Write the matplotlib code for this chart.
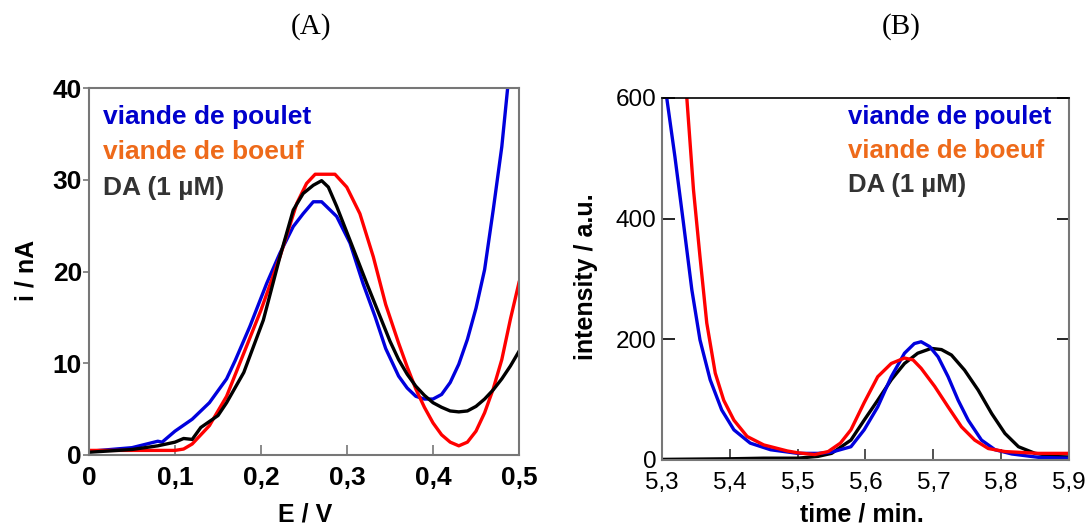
import matplotlib
matplotlib.use("Agg")
import matplotlib.pyplot as plt
from matplotlib.ticker import FuncFormatter

plt.rcParams['font.family'] = ['Liberation Sans', 'DejaVu Sans']

# ---- Panel A: voltammograms (E / V vs i / nA) ----
E_poulet = [0.0, 0.05, 0.08, 0.085, 0.1, 0.12, 0.14, 0.16, 0.17, 0.187, 0.2066, 0.222,
            0.2375, 0.249, 0.2608, 0.2705, 0.276, 0.288, 0.3035, 0.3186, 0.3326, 0.345,
            0.36, 0.37, 0.38, 0.39, 0.4, 0.41, 0.42, 0.43, 0.44, 0.45, 0.46, 0.47,
            0.48, 0.49]
i_poulet = [0.4, 0.8, 1.5, 1.4, 2.6, 3.9, 5.7, 8.3, 10.3, 14.0, 18.7, 22.0,
            24.9, 26.3, 27.6, 27.6, 27.1, 26.0, 23.1, 18.7, 15.1, 11.6,
            8.6, 7.3, 6.4, 6.1, 6.1, 6.6, 7.9, 9.9, 12.6, 16.0, 20.2, 26.7,
            33.6, 43.0]

E_boeuf = [0.0, 0.1, 0.11, 0.12, 0.14, 0.16, 0.18, 0.2, 0.222, 0.2415, 0.253, 0.263,
           0.286, 0.2997, 0.315, 0.3306, 0.345, 0.36, 0.37, 0.38, 0.39, 0.4, 0.41,
           0.42, 0.43, 0.44, 0.45, 0.46, 0.47, 0.48, 0.49, 0.5]
i_boeuf = [0.5, 0.5, 0.65, 1.2, 3.2, 6.4, 11.1, 15.8, 21.6, 27.4, 29.6, 30.6,
           30.6, 29.2, 26.3, 21.6, 16.4, 12.2, 9.6, 7.2, 5.2, 3.5, 2.2,
           1.4, 1.0, 1.4, 2.6, 4.6, 7.2, 10.4, 14.8, 18.8]

E_da = [0.0, 0.05, 0.08, 0.1, 0.11, 0.12, 0.13, 0.15, 0.16, 0.18, 0.2027, 0.222,
        0.2375, 0.249, 0.2608, 0.2705, 0.2783, 0.288, 0.3035, 0.323, 0.3384, 0.35,
        0.36, 0.37, 0.38, 0.39, 0.4, 0.41, 0.42, 0.43, 0.44, 0.45, 0.46, 0.47,
        0.48, 0.49, 0.5]
i_da = [0.3, 0.6, 1.0, 1.4, 1.8, 1.7, 3.0, 4.3, 5.7, 9.0, 14.7, 21.6,
        26.7, 28.5, 29.4, 29.9, 29.2, 27.1, 23.4, 18.7, 15.1, 12.4,
        10.4, 8.8, 7.5, 6.5, 5.7, 5.2, 4.8, 4.7, 4.8, 5.3, 6.1, 7.1,
        8.3, 9.7, 11.3]

# ---- Panel B: chromatograms (time / min vs intensity / a.u.) ----
t_poulet = [5.307, 5.319, 5.3316, 5.344, 5.356, 5.371, 5.388, 5.406, 5.43, 5.46, 5.50,
            5.53, 5.55, 5.5785, 5.598, 5.618, 5.638, 5.6575, 5.672, 5.682, 5.6945,
            5.707, 5.7218, 5.7366, 5.7514, 5.771, 5.791, 5.8156, 5.855, 5.90]
I_poulet = [600, 503, 393, 282, 199, 133, 83, 50, 28, 17, 11,
            11, 13, 22, 50, 88, 138, 177, 193, 196, 188,
            171, 138, 99, 66, 33, 17, 10, 4.4, 3]

t_boeuf = [5.3366, 5.3464, 5.356, 5.366, 5.3785, 5.391, 5.406, 5.4255, 5.45, 5.4847,
           5.50, 5.525, 5.545, 5.563, 5.5785, 5.598, 5.618, 5.638, 5.6575, 5.67, 5.682,
           5.702, 5.7218, 5.7415, 5.761, 5.781, 5.8056, 5.855, 5.90]
I_boeuf = [600, 448, 337, 227, 144, 99, 66, 39, 25, 15,
           12, 9, 14, 28, 50, 95, 138, 160, 169, 166, 152,
           122, 88, 55, 33, 19, 14, 11, 11]

t_da = [5.30, 5.40, 5.45, 5.50, 5.53, 5.55, 5.5785, 5.598, 5.618, 5.638, 5.6575, 5.677,
        5.697, 5.712, 5.7267, 5.746, 5.766, 5.786, 5.8056, 5.8255, 5.85, 5.885, 5.90]
I_da = [1, 2, 3, 3, 6, 11, 33, 66, 99, 133, 160, 177,
        185, 183, 174, 149, 116, 77, 44, 22, 11, 5.5, 5]

labels = ["viande de poulet", "viande de boeuf", "DA (1 µM)"]
text_colors = ["#0000CC", "#EE6A1A", "#333333"]
line_colors = ["#0000DD", "#FF0000", "#000000"]

W, H = 1085, 526
fig = plt.figure(figsize=(W / 100, H / 100), dpi=100)


def frac(x0, y0, x1, y1):
    return [x0 / W, 1 - y1 / H, (x1 - x0) / W, (y1 - y0) / H]


def comma(v, pos):
    return "0" if abs(v) < 1e-9 else f"{v:.1f}".replace(".", ",")


lw = 2.4
spine_col = "#777777"

# Panel A
axA = fig.add_axes(frac(89, 88, 519, 455))
axA.plot(E_poulet, i_poulet, color=line_colors[0], lw=lw)
axA.plot(E_boeuf, i_boeuf, color=line_colors[1], lw=lw)
axA.plot(E_da, i_da, color=line_colors[2], lw=lw)
axA.set_xlim(0, 0.5)
axA.set_ylim(0, 40)
axA.set_xticks([0, 0.1, 0.2, 0.3, 0.4, 0.5])
axA.set_yticks([0, 10, 20, 30, 40])
axA.xaxis.set_major_formatter(FuncFormatter(comma))
axA.tick_params(axis='x', direction='in', length=7, width=1.2, color=spine_col,
                labelsize=19, pad=8)
axA.tick_params(axis='y', direction='out', length=4, width=1.2, color=spine_col,
                labelsize=19, pad=1)
for lab in axA.get_xticklabels() + axA.get_yticklabels():
    lab.set_fontweight('bold')
for sp in axA.spines.values():
    sp.set_color(spine_col)
    sp.set_linewidth(1.5)

# Panel B
axB = fig.add_axes(frac(662, 98, 1069, 460))
axB.plot(t_da, I_da, color=line_colors[2], lw=lw)
axB.plot(t_poulet, I_poulet, color=line_colors[0], lw=lw)
axB.plot(t_boeuf, I_boeuf, color=line_colors[1], lw=lw)
axB.set_xlim(5.3, 5.9)
axB.set_ylim(0, 600)
axB.set_xticks([5.3, 5.4, 5.5, 5.6, 5.7, 5.8, 5.9])
axB.set_yticks([0, 200, 400, 600])
axB.xaxis.set_major_formatter(FuncFormatter(lambda v, p: f"{v:.1f}".replace(".", ",")))
axB.tick_params(axis='x', direction='in', length=8, width=1.2, color='#333333',
                labelsize=17.5, pad=9)
axB.tick_params(axis='y', direction='in', length=9, width=1.2, color='black',
                labelsize=17.5, pad=4, left=True, right=True)
for sp in axB.spines.values():
    sp.set_color(spine_col)
    sp.set_linewidth(1.5)
axB.spines['top'].set_color('black')
axB.spines['top'].set_linewidth(1.2)

# Legend texts
for k, (lab, c) in enumerate(zip(labels, text_colors)):
    yA = [117, 152, 188][k]
    yB = [117, 151, 185][k]
    fig.text(103 / W, 1 - yA / H, lab, color=c, fontsize=19, fontweight='bold',
             ha='left', va='center')
    fig.text(848 / W, 1 - yB / H, lab, color=c, fontsize=18.5, fontweight='bold',
             ha='left', va='center')

# Axis labels
fig.text(305 / W, 1 - 514 / H, "E / V", fontsize=18, fontweight='bold',
         ha='center', va='center')
fig.text(27 / W, 1 - 270 / H, "i / nA", fontsize=18, fontweight='bold',
         ha='center', va='center', rotation=90)
fig.text(862 / W, 1 - 514 / H, "time / min.", fontsize=18, fontweight='bold',
         ha='center', va='center')
fig.text(586 / W, 1 - 277 / H, "intensity / a.u.", fontsize=18, fontweight='bold',
         ha='center', va='center', rotation=90)

# Panel titles
fig.text(311 / W, 1 - 27 / H, "(A)", fontsize=21, family='Liberation Serif',
         ha='center', va='center')
fig.text(901 / W, 1 - 27 / H, "(B)", fontsize=21, family='Liberation Serif',
         ha='center', va='center')

fig.savefig("out.png", dpi=100)
